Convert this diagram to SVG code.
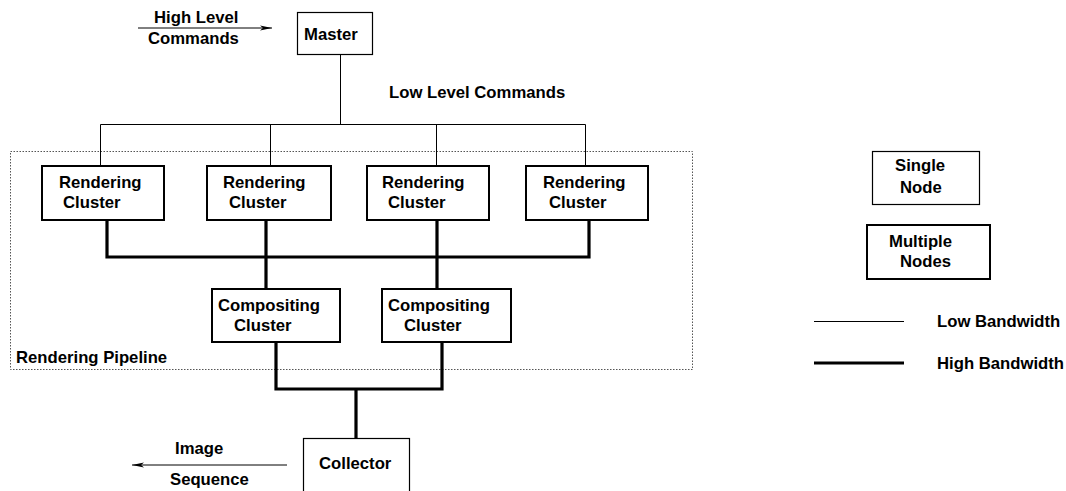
<svg xmlns="http://www.w3.org/2000/svg" width="1066" height="491" viewBox="0 0 1066 491">
<style>
text{font-family:"Liberation Sans",Arial,sans-serif;font-weight:bold;font-size:16.7px;fill:#000}
.box{fill:#fff;stroke:#000;stroke-width:1.2}
.mbox{fill:#fff;stroke:#000;stroke-width:2}
.thin{fill:none;stroke:#000;stroke-width:1}
.thick{fill:none;stroke:#000;stroke-width:3.2}
</style>
<defs>
<marker id="ah" markerWidth="12" markerHeight="6" refX="12" refY="3" orient="auto" markerUnits="userSpaceOnUse">
<path d="M0,0.5 L12,3 L0,5.5 L3,3 Z" fill="#000"/>
</marker>
</defs>
<rect id="pipeline" x="10.5" y="151.5" width="682" height="218" fill="none" stroke="#555" stroke-width="1" stroke-dasharray="1.5,1.5"/>
<text x="16" y="363">Rendering Pipeline</text>
<g id="connectors">
<line class="thin" x1="138" y1="28" x2="272" y2="28" marker-end="url(#ah)"/>
<path class="thin" d="M340.5,54 V124.5 M100.5,166 V124.5 H585.5 V166 M270.5,124.5 V166 M436.5,124.5 V166"/>
<path class="thick" d="M107,220 V257 H589 V220 M266,220 V289 M437,220 V289"/>
<path class="thick" d="M276,342 V389 H442 V342 M356,389 V438"/>
<line class="thin" x1="287" y1="465" x2="132" y2="465" marker-end="url(#ah)"/>
</g>
<text x="154" y="23">High Level</text>
<text x="148" y="44">Commands</text>
<text x="389" y="98">Low Level Commands</text>
<text x="175" y="454">Image</text>
<text x="170" y="485">Sequence</text>
<g id="master"><rect class="box" x="297.5" y="12.5" width="75" height="42"/><text x="304" y="40">Master</text></g>
<g id="rc1"><rect class="mbox" x="42" y="166" width="122" height="54"/><text x="59" y="188">Rendering</text><text x="63" y="208">Cluster</text></g>
<g id="rc2"><rect class="mbox" x="207" y="166" width="124" height="54"/><text x="223" y="188">Rendering</text><text x="229" y="208">Cluster</text></g>
<g id="rc3"><rect class="mbox" x="367" y="166" width="122" height="54"/><text x="382" y="188">Rendering</text><text x="388" y="208">Cluster</text></g>
<g id="rc4"><rect class="mbox" x="526" y="166" width="122" height="54"/><text x="543" y="188">Rendering</text><text x="549" y="208">Cluster</text></g>
<g id="cc1"><rect class="mbox" x="212" y="289" width="128" height="53"/><text x="218" y="311">Compositing</text><text x="234" y="331">Cluster</text></g>
<g id="cc2"><rect class="mbox" x="382" y="289" width="129" height="53"/><text x="388" y="311">Compositing</text><text x="404" y="331">Cluster</text></g>
<g id="collector"><rect class="box" x="303.5" y="438.5" width="106" height="60"/><text x="319" y="469">Collector</text></g>
<g id="legend">
<g id="single"><rect class="box" x="872.5" y="151.5" width="107" height="53"/><text x="895" y="171">Single</text><text x="900" y="193">Node</text></g>
<g id="multiple"><rect class="mbox" x="867" y="225" width="123" height="54"/><text x="889" y="247">Multiple</text><text x="900" y="267">Nodes</text></g>
<line class="thin" x1="814" y1="321.5" x2="904" y2="321.5"/>
<text x="937" y="327">Low Bandwidth</text>
<line class="thick" x1="814" y1="363" x2="904" y2="363"/>
<text x="937" y="369">High Bandwidth</text>
</g>
</svg>
